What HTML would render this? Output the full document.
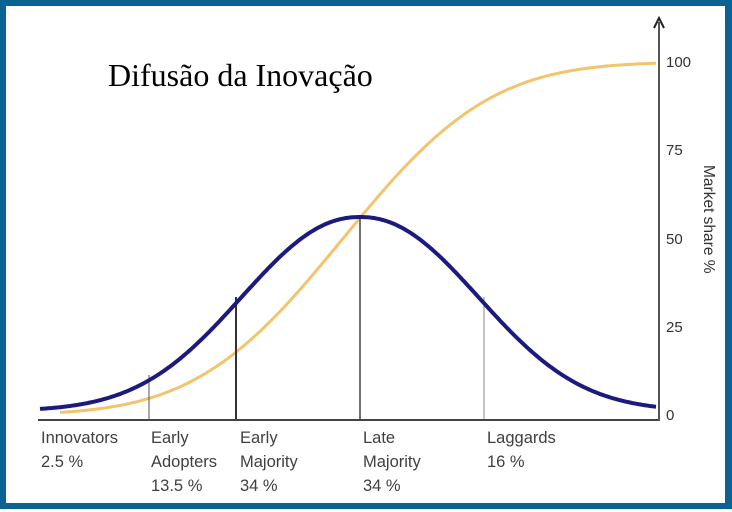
<!DOCTYPE html>
<html><head><meta charset="utf-8"><style>
html,body{margin:0;padding:0;background:#fff;}
body{width:732px;height:512px;position:relative;overflow:hidden;font-family:"Liberation Sans",sans-serif;}
.frame{position:absolute;left:0;top:0;width:719px;height:497px;border:6px solid #0a6392;border-right-width:7px;}
svg{position:absolute;left:0;top:0;}
.l{font-size:16.5px;fill:#404040;}
</style></head><body>
<div class="frame"></div>
<svg width="732" height="512" xmlns="http://www.w3.org/2000/svg">
<text x="108" y="86" font-family="Liberation Serif,serif" font-size="32" fill="#000">Difusão da Inovação</text>
<path id="s" fill="none" stroke="#f2c46d" stroke-width="3"/>
<line x1="149" y1="375" x2="149" y2="420" stroke="#555" stroke-width="1"/>
<line x1="236" y1="297" x2="236" y2="420" stroke="#333" stroke-width="2"/>
<line x1="360" y1="218" x2="360" y2="420" stroke="#444" stroke-width="1.5"/>
<line x1="484" y1="297" x2="484" y2="420" stroke="#888" stroke-width="1"/>
<path id="b" fill="none" stroke="#1c1a7e" stroke-width="4"/>
<line x1="38" y1="420" x2="660" y2="420" stroke="#444" stroke-width="2"/>
<line x1="659" y1="22" x2="659" y2="421" stroke="#555" stroke-width="2"/>
<path d="M654 28 L659 18 L664 28" fill="none" stroke="#222" stroke-width="2"/>
<g font-size="15" fill="#333">
<text x="666" y="67">100</text><text x="666" y="155">75</text><text x="666" y="244">50</text><text x="666" y="332">25</text><text x="666" y="420">0</text>
</g>
<text transform="translate(704,165) rotate(90)" font-size="15.5" fill="#333">Market share %</text>
<g>
<text x="41" y="443" class="l">Innovators</text><text x="41" y="467" class="l">2.5 %</text>
<text x="151" y="443" class="l">Early</text><text x="151" y="467" class="l">Adopters</text><text x="151" y="491" class="l">13.5 %</text>
<text x="240" y="443" class="l">Early</text><text x="240" y="467" class="l">Majority</text><text x="240" y="491" class="l">34 %</text>
<text x="363" y="443" class="l">Late</text><text x="363" y="467" class="l">Majority</text><text x="363" y="491" class="l">34 %</text>
<text x="487" y="443" class="l">Laggards</text><text x="487" y="467" class="l">16 %</text>
</g>
</svg>
<script>
function erf(x){var s=x<0?-1:1;x=Math.abs(x);var t=1/(1+0.3275911*x);var y=1-(((((1.061405429*t-1.453152027)*t)+1.421413741)*t-0.284496736)*t+0.254829592)*t*Math.exp(-x*x);return s*y;}
function Phi(z){return 0.5*(1+erf(z/Math.SQRT2));}
var b="",s="";
for(var x=40;x<=657;x+=2){
 var z=(x-360)/115;var y=411-194*Math.exp(-Math.pow(Math.abs(z),2.15)/2);
 b+=(x==40?"M":"L")+x+" "+y.toFixed(1);
}
for(var x=60;x<=657;x+=2){
 var y=415-353*Phi((x-343)/116);
 s+=(x==60?"M":"L")+x+" "+y.toFixed(1);
}
document.getElementById("b").setAttribute("d",b);
document.getElementById("s").setAttribute("d",s);
</script>
</body></html>
